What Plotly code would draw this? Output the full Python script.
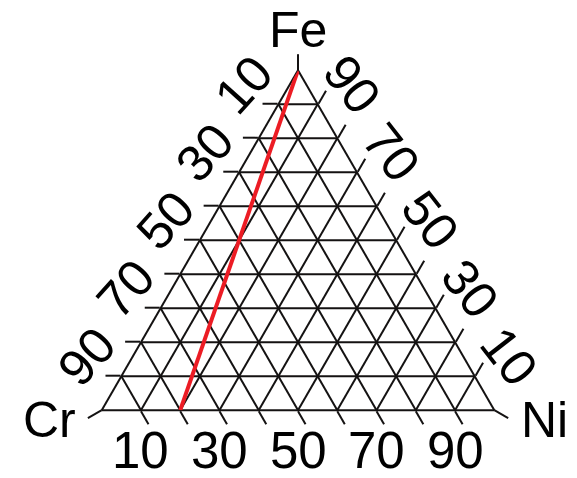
import math
import plotly.graph_objects as go

# Components: a = Fe (top), b = Cr (bottom-left), c = Ni (bottom-right)
grid_values = [10, 20, 30, 40, 50, 60, 70, 80, 90]
label_values = [10, 30, 50, 70, 90]

# Composition path (at.%) drawn in red: pure Fe to Cr80Ni20
line_fe = [100, 0]
line_cr = [0, 80]
line_ni = [0, 20]

W, H = 577, 478
INK = "#141212"
FONT = "Liberation Sans, Arial, sans-serif"
TICK_SIZE = 51
TITLE_SIZE = 50
LW = 2

# Ternary domain placement
xc, yc = 0.5165, 0.4975
dom_h = 340 / H
dom_w = 0.8


def axis_style():
    return dict(
        min=0,
        tickmode="array",
        tickvals=grid_values,
        ticks="outside",
        ticklen=15,
        tickwidth=LW,
        tickcolor=INK,
        showticklabels=False,
        showgrid=True,
        gridcolor=INK,
        gridwidth=LW,
        showline=True,
        linecolor=INK,
        linewidth=LW,
        title=dict(text=""),
        layer="below traces",
    )


fig = go.Figure()
fig.add_trace(go.Scatterternary(
    a=line_fe, b=line_cr, c=line_ni,
    mode="lines",
    line=dict(color="#ec1c24", width=4),
    hoverinfo="skip",
    showlegend=False,
))

# Triangle corners in pixels (same fitting rule plotly uses for the ternary)
tri_h = dom_h * H
tri_w = tri_h * 2 / math.sqrt(3)
apex = (W * xc, H * (1 - yc) - tri_h / 2)
left_v = (W * xc - tri_w / 2, apex[1] + tri_h)
right_v = (W * xc + tri_w / 2, apex[1] + tri_h)


def px2paper(x, y):
    return x / W, 1 - y / H


def lerp(p, q, t):
    return (p[0] + (q[0] - p[0]) * t, p[1] + (q[1] - p[1]) * t)


c30, s30 = math.cos(math.radians(30)), math.sin(math.radians(30))

# Vertex ticks along the outward bisectors
shapes = []
tick_len = 16
for (vx, vy), (dx, dy) in [(apex, (0, -1)), (left_v, (-c30, s30)), (right_v, (c30, s30))]:
    x0p, y0p = px2paper(vx, vy)
    x1p, y1p = px2paper(vx + dx * tick_len, vy + dy * tick_len)
    shapes.append(dict(type="line", xref="paper", yref="paper",
                       x0=x0p, y0=y0p, x1=x1p, y1=y1p,
                       line=dict(color=INK, width=LW)))

annotations = []


def add_text(text, px, py, size, angle=0):
    ax, ay = px2paper(px, py)
    annotations.append(dict(text=text, x=ax, y=ay, xref="paper", yref="paper",
                            xanchor="center", yanchor="middle", showarrow=False,
                            textangle=angle,
                            font=dict(size=size, color="black", family=FONT)))


# Edge labels: left edge reads Cr, bottom reads Ni, right edge reads Fe
side_off = 40
bottom_off = 40
for v in label_values:
    t = v / 100
    x, y = lerp(apex, left_v, t)
    add_text(str(v), x - c30 * side_off, y - s30 * side_off, TICK_SIZE, -48)
    x, y = lerp(left_v, right_v, t)
    add_text(str(v), x, y + bottom_off, TICK_SIZE)
    x, y = lerp(right_v, apex, t)
    add_text(str(v), x + c30 * side_off, y - s30 * side_off, TICK_SIZE, 52)

# Component names at the corners
add_text("Fe", apex[0], apex[1] - 40, TITLE_SIZE)
add_text("Cr", left_v[0] - 52, left_v[1] + 10, TITLE_SIZE)
add_text("Ni", right_v[0] + 50, right_v[1] + 10, TITLE_SIZE)

fig.update_layout(
    width=W, height=H,
    margin=dict(l=0, r=0, t=0, b=0),
    paper_bgcolor="white",
    ternary=dict(
        sum=100,
        bgcolor="white",
        domain=dict(x=[xc - dom_w / 2, xc + dom_w / 2], y=[yc - dom_h / 2, yc + dom_h / 2]),
        aaxis=axis_style(),
        baxis=axis_style(),
        caxis=axis_style(),
    ),
    shapes=shapes,
    annotations=annotations,
    showlegend=False,
)

fig.write_html("out.html")
